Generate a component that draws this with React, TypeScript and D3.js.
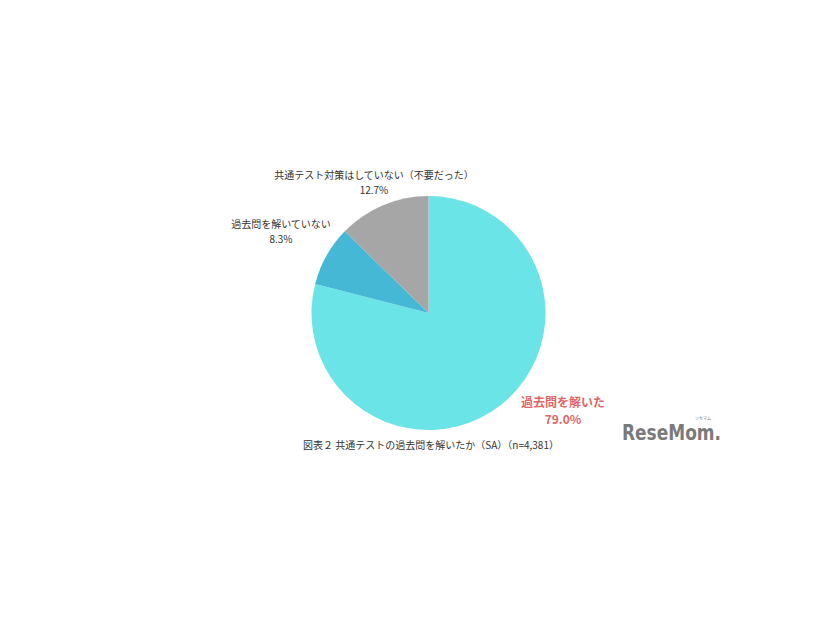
import React, { useEffect, useRef } from 'react';
import * as d3 from 'd3';

const labels = ['過去問を解いた', '過去問を解いていない', '共通テスト対策はしていない（不要だった）'];
const values = [79.0, 8.3, 12.7];
const colors = ['#6ae4e7', '#45b8d6', '#a6a6a6'];
const caption = '図表２ 共通テストの過去問を解いたか（SA）（n=4,381）';

const W = 826;
const H = 620;

const App: React.FC = () => {
  const svgRef = useRef<SVGSVGElement>(null);

  useEffect(() => {
    if (!svgRef.current) return;
    const svg = d3.select(svgRef.current);
    svg.selectAll('*').remove();

    const font = '"Noto Sans CJK JP", "Noto Sans", sans-serif';
    const cx = 428.5;
    const cy = 313;
    const radius = 117;

    svg.append('rect').attr('width', W).attr('height', H).attr('fill', '#ffffff');

    const data = labels.map((l, i) => ({ label: l, value: values[i], color: colors[i] }));
    const pie = d3.pie<typeof data[0]>().value(d => d.value).sort(null);
    const arc = d3.arc<d3.PieArcDatum<typeof data[0]>>().innerRadius(0).outerRadius(radius);

    const g = svg.append('g').attr('transform', `translate(${cx},${cy})`);
    g.selectAll('path')
      .data(pie(data))
      .enter().append('path')
      .attr('d', arc)
      .attr('fill', d => d.data.color);

    // slice labels
    const labelPos = [
      { x: 563, y: 406.5, fill: '#e06666', size: 12, weight: 'bold', gap: 17.5 },
      { x: 281, y: 228, fill: '#333333', size: 10, weight: 'normal', gap: 14.6 },
      { x: 374, y: 179, fill: '#333333', size: 10, weight: 'normal', gap: 14.6 },
    ];
    data.forEach((d, i) => {
      const p = labelPos[i];
      [d.label, `${d.value.toFixed(1)}%`].forEach((s, k) => {
        svg.append('text')
          .attr('x', p.x)
          .attr('y', p.y + k * p.gap)
          .attr('text-anchor', 'middle')
          .style('font-family', font)
          .style('font-size', `${p.size}px`)
          .style('font-weight', p.weight)
          .style('fill', p.fill)
          .text(s);
      });
    });

    svg.append('text')
      .attr('x', 431)
      .attr('y', 449)
      .attr('text-anchor', 'middle')
      .style('font-family', font)
      .style('font-size', '10px')
      .style('fill', '#333333')
      .text(caption);

    // logo
    svg.append('text')
      .attr('x', 622)
      .attr('y', 440)
      .attr('textLength', 99)
      .attr('lengthAdjust', 'spacingAndGlyphs')
      .style('font-family', '"DejaVu Sans", sans-serif')
      .style('font-size', '21px')
      .style('font-weight', 'bold')
      .style('fill', '#7a7a7a')
      .text('ReseMom.');
    svg.append('text')
      .attr('x', 703)
      .attr('y', 420)
      .attr('text-anchor', 'middle')
      .style('font-family', font)
      .style('font-size', '4px')
      .style('fill', '#7a7a7a')
      .text('リセマム');
  }, []);

  return <svg ref={svgRef} width={W} height={H} style={{ display: 'block', position: 'absolute', left: 0, top: 0 }} />;
};

export default App;
